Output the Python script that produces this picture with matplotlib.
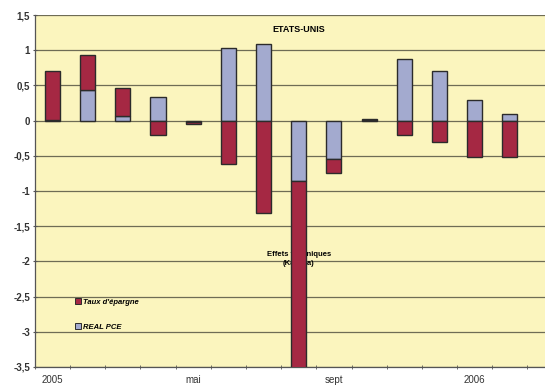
import matplotlib
matplotlib.use("Agg")
import matplotlib.pyplot as plt
from matplotlib.lines import Line2D
import numpy as np

# Monthly contributions, Jan 2005 - Feb 2006
months = ["jan", "fév", "mars", "avr", "mai", "juin", "juil", "août",
          "sept", "oct", "nov", "déc", "jan", "fév"]
real_pce = [0.01, 0.43, 0.06, 0.33, -0.02, 1.03, 1.09, -0.86,
            -0.54, 0.01, 0.88, 0.70, 0.30, 0.09]
taux_epargne = [0.70, 0.50, 0.41, -0.21, -0.03, -0.61, -1.32, -2.75,
                -0.20, 0.015, -0.21, -0.31, -0.51, -0.51]
tick_labels = {0: "2005", 4: "mai", 8: "sept", 12: "2006"}
y_ticks = [1.5, 1, 0.5, 0, -0.5, -1, -1.5, -2, -2.5, -3, -3.5]

RED = "#A52843"
BLUE = "#A3AACF"
BG = "#FBF5BE"
EDGE = "#2b2b2b"

plt.rcParams["font.family"] = ["Liberation Sans", "DejaVu Sans"]

fig = plt.figure(figsize=(5.45, 3.87), dpi=100)
ax = fig.add_axes([0.064, 0.052, 0.936, 0.909])
ax.set_facecolor(BG)

x = np.arange(len(months))
pce = np.array(real_pce)
sav = np.array(taux_epargne)

# Excel-style stacking: positives stack upward, negatives downward
bottom_sav = np.where(sav >= 0, np.maximum(pce, 0), np.minimum(pce, 0))
ax.bar(x, pce, width=0.43, color=BLUE, edgecolor=EDGE, linewidth=1.0, zorder=3)
ax.bar(x, sav, width=0.43, bottom=bottom_sav, color=RED, edgecolor=EDGE,
       linewidth=1.0, zorder=3)

ax.set_xlim(-0.5, 14.0)
ax.set_ylim(-3.5, 1.5)

ax.set_yticks(y_ticks)
ax.set_yticklabels([("%g" % v).replace(".", ",") for v in y_ticks],
                   fontsize=7, fontweight="bold", color="#333333")
ax.yaxis.grid(True, color="#6e6c55", linewidth=0.9, zorder=1)
ax.set_axisbelow(True)

ax.set_xticks(list(tick_labels.keys()))
ax.set_xticklabels(list(tick_labels.values()), fontsize=7, color="#333333")
ax.tick_params(axis="x", length=0, pad=6)
ax.set_xticks(np.arange(-0.5, 14.0, 1.0), minor=True)
ax.tick_params(axis="x", which="minor", length=3, direction="inout",
               color="#555555")
ax.tick_params(axis="y", length=3, direction="inout", color="#555555", pad=2)

for side in ("top", "right"):
    ax.spines[side].set_visible(False)
for side in ("left", "bottom"):
    ax.spines[side].set_color("#555555")
    ax.spines[side].set_linewidth(0.9)

ax.text(7.0, 1.3, "ETATS-UNIS", ha="center", va="center", fontsize=6.5,
        fontweight="bold", zorder=4)
ax.text(7.0, -1.97, "Effets techniques\n(Katrina)", ha="center", va="center",
        fontsize=5.5, fontweight="bold", linespacing=1.5, zorder=2)

handles = [
    Line2D([], [], marker="s", linestyle="none", markersize=4,
           markerfacecolor=RED, markeredgecolor=EDGE, markeredgewidth=0.7),
    Line2D([], [], marker="s", linestyle="none", markersize=4,
           markerfacecolor=BLUE, markeredgecolor=EDGE, markeredgewidth=0.7),
]
leg = ax.legend(handles, ["Taux d'épargne", "REAL PCE"], loc="upper left",
                bbox_to_anchor=(0.065, 0.214), frameon=False,
                prop={"size": 5.5, "style": "italic", "weight": "bold"},
                labelspacing=2.35, handletextpad=0.2, handlelength=0.8)

fig.savefig("out.png", dpi=100)
